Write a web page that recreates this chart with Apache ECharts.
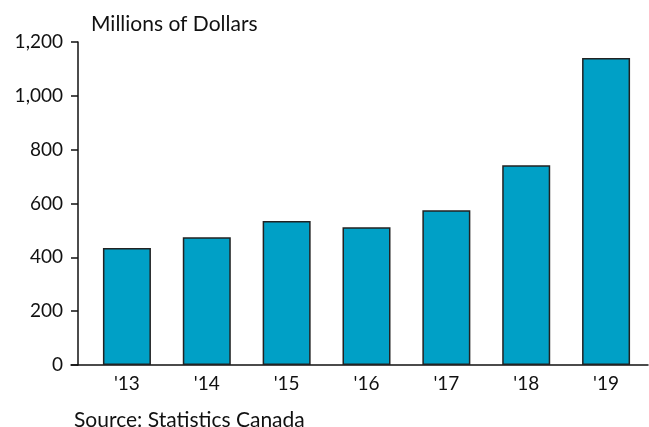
<!DOCTYPE html>
<html>
<head>
<meta charset="utf-8">
<script src="https://cdn.jsdelivr.net/npm/echarts@6/dist/echarts.min.js"></script>
<style>
  html, body { margin: 0; padding: 0; background: #fff; }
  #main { width: 649px; height: 427px; }
</style>
</head>
<body>
<div id="main"></div>
<script>
const years = ["'13", "'14", "'15", "'16", "'17", "'18", "'19"];
const values = [435, 475, 535, 512, 575, 742, 1141];
const yTicks = [0, 200, 400, 600, 800, 1000, 1200];

const FONT = 'Lato';
const barColor = '#00a0c6';

const chart = echarts.init(document.getElementById('main'));

const option = {
    backgroundColor: '#fff',
    animation: false,
    textStyle: { fontFamily: FONT },
    title: [
        {
            text: 'Millions of Dollars',
            left: 91,
            top: 14,
            padding: 0,
            textStyle: { fontFamily: FONT, fontSize: 21, fontWeight: 'normal', color: '#111' }
        },
        {
            text: 'Source: Statistics Canada',
            left: 74,
            top: 410,
            padding: 0,
            textStyle: { fontFamily: FONT, fontSize: 21, fontWeight: 'normal', color: '#111' }
        }
    ],
    grid: [
        // bars
        { left: 87, right: 3, top: 42, bottom: 62 },
        // wider grid only used for the baseline that runs past the y axis
        { left: 71, right: 1, top: 42, bottom: 62 }
    ],
    xAxis: [
        {
            type: 'category',
            gridIndex: 0,
            data: years,
            axisLine: { show: false },
            axisTick: { show: false },
            axisLabel: { margin: 9, fontSize: 19, color: '#111', fontFamily: FONT }
        },
        {
            type: 'category',
            gridIndex: 1,
            data: years,
            axisLine: { show: true, lineStyle: { color: '#111', width: 1.5 } },
            axisTick: { show: false },
            axisLabel: { show: false }
        }
    ],
    yAxis: [
        {
            type: 'value',
            gridIndex: 0,
            min: yTicks[0],
            max: yTicks[yTicks.length - 1],
            interval: 200,
            offset: 9,
            axisLine: { show: true, lineStyle: { color: '#111', width: 1.5 } },
            axisTick: { show: true, length: 7, lineStyle: { color: '#111', width: 1.5 } },
            axisLabel: {
                margin: 15, fontSize: 19, color: '#111', fontFamily: FONT,
                formatter: v => v.toLocaleString('en-US')
            },
            splitLine: { show: false }
        },
        {
            type: 'value',
            gridIndex: 1,
            min: yTicks[0],
            max: yTicks[yTicks.length - 1],
            show: false
        }
    ],
    series: [
        {
            type: 'bar',
            xAxisIndex: 0,
            yAxisIndex: 0,
            data: values,
            barWidth: 48,
            itemStyle: { color: barColor, borderColor: '#222', borderWidth: 1.5 }
        }
    ]
};

chart.setOption(option);
</script>
</body>
</html>
